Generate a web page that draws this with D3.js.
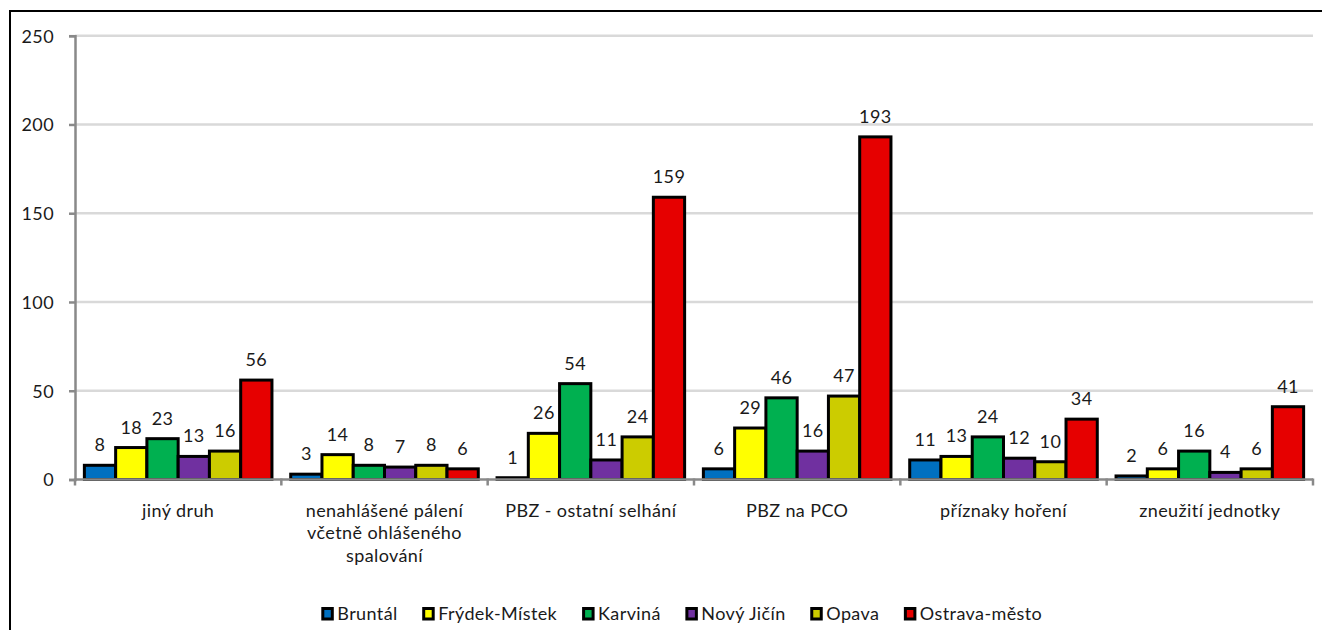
<!DOCTYPE html>
<html><head><meta charset="utf-8">
<script src="https://cdn.jsdelivr.net/npm/d3@7"></script>
<style>
body{margin:0;background:#fff;}
text{font-family:"Century Gothic","Lato","DejaVu Sans",sans-serif;fill:#1a1a1a;letter-spacing:0.4px;}
</style></head>
<body><svg id="c" width="1322" height="630"></svg>
<script>
const categories = [["jiný druh"],["nenahlášené pálení","včetně ohlášeného","spalování"],["PBZ - ostatní selhání"],["PBZ na PCO"],["příznaky hoření"],["zneužití jednotky"]];
const seriesNames = ["Bruntál","Frýdek-Místek","Karviná","Nový Jičín","Opava","Ostrava-město"];
const colors = ["#0070C0","#FFFF00","#00B050","#7030A0","#CCCC00","#E60000"];
const bruntal = [8,3,1,6,11,2];
const frydek = [18,14,26,29,13,6];
const karvina = [23,8,54,46,24,16];
const novyJicin = [13,7,11,16,12,4];
const opava = [16,8,24,47,10,6];
const ostrava = [56,6,159,193,34,41];
const yTicks = [0,50,100,150,200,250];
const values = [bruntal,frydek,karvina,novyJicin,opava,ostrava];

const FS = 18;
const svg = d3.select("#c");
svg.append("rect").attr("x",10).attr("y",11).attr("width",1330).attr("height",640)
  .attr("fill","none").attr("stroke","#000").attr("stroke-width",2);

const pL=75,pR=1313,pT=35.7,pB=479.5;
const y = d3.scaleLinear().domain([0,250]).range([pB,pT]);
const x0 = d3.scaleBand().domain(d3.range(categories.length)).range([pL,pR]).padding(0);
const x1 = d3.scaleBand().domain(d3.range(seriesNames.length)).range([0,x0.bandwidth()]).paddingOuter(0.3).paddingInner(0);

// gridlines
svg.append("g").selectAll("line").data(yTicks.filter(d=>d>0)).join("line")
  .attr("x1",pL).attr("x2",pR).attr("y1",d=>y(d)).attr("y2",d=>y(d))
  .attr("stroke","#D9D9D9").attr("stroke-width",2.5);

// y axis
const ya = svg.append("g").attr("transform",`translate(${pL},0)`)
  .call(d3.axisLeft(y).tickValues(yTicks).tickSize(6).tickPadding(15));
ya.attr("font-family",null).attr("font-size",null);
ya.select(".domain").attr("stroke","#898989").attr("stroke-width",2.5);
ya.selectAll(".tick line").attr("stroke","#898989").attr("stroke-width",2.5);
ya.selectAll(".tick text").attr("font-size",FS).attr("fill","#1a1a1a").attr("dy","0.36em");

// bars
const groups = svg.append("g").selectAll("g").data(categories).join("g")
  .attr("transform",(d,i)=>`translate(${x0(i)},0)`);
groups.each(function(c,ci){
  const g=d3.select(this);
  seriesNames.forEach((s,si)=>{
    const v=values[si][ci];
    g.append("rect").attr("x",x1(si)).attr("width",x1.bandwidth())
      .attr("y",y(v)).attr("height",pB-y(v))
      .attr("fill",colors[si]).attr("stroke","#000").attr("stroke-width",3);
  });
  seriesNames.forEach((s,si)=>{
    const v=values[si][ci];
    g.append("text").attr("x",x1(si)+x1.bandwidth()/2).attr("y",y(v)-14)
      .attr("text-anchor","middle").attr("font-size",FS).text(v);
  });
});

// x axis
const xa = svg.append("g").attr("transform",`translate(0,${pB})`);
xa.append("line").attr("x1",pL).attr("x2",pR).attr("stroke","#898989").attr("stroke-width",2.5);
xa.selectAll(".tk").data(d3.range(categories.length+1)).join("line")
  .attr("x1",i=>pL+i*x0.bandwidth()).attr("x2",i=>pL+i*x0.bandwidth())
  .attr("y1",-1).attr("y2",6).attr("stroke","#898989").attr("stroke-width",2.5);
categories.forEach((lines,i)=>{
  const cx=x0(i)+x0.bandwidth()/2;
  const t=xa.append("text").attr("text-anchor","middle").attr("font-size",FS)
    .attr("x",cx).attr("y",37);
  lines.forEach((l,li)=>t.append("tspan").attr("x",cx).attr("dy",li?22.5:0).text(l));
});

// legend
const lg = svg.append("g").attr("transform","translate(0,620)");
const items = lg.selectAll("g").data(seriesNames).join("g");
items.append("rect").attr("x",1.5).attr("y",-11.5).attr("width",9.5).attr("height",10.5)
  .attr("fill",(d,i)=>colors[i]).attr("stroke","#000").attr("stroke-width",3);
items.append("text").attr("x",16).attr("y",0).attr("font-size",FS).text(d=>d);
const widths=[];
items.each(function(){widths.push(this.getBBox().width);});
const gap=26; const total=d3.sum(widths)+gap*(widths.length-1);
let xpos=681-total/2;
items.attr("transform",(d,i)=>{const t=`translate(${xpos},0)`; xpos+=widths[i]+gap; return t;});
</script></body></html>
